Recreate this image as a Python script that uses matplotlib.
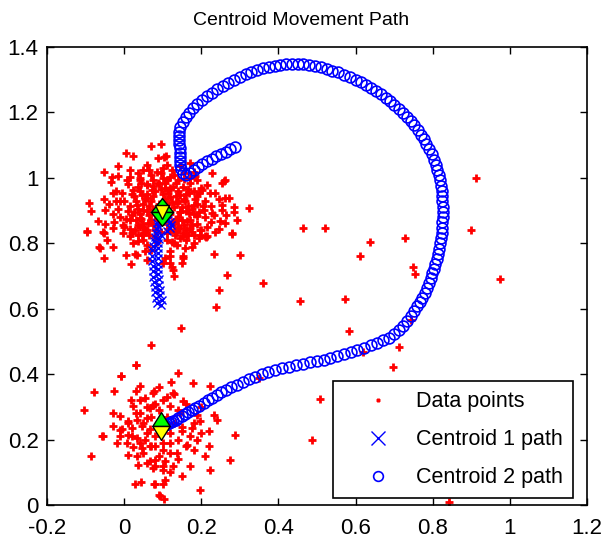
import numpy as np
import matplotlib.pyplot as plt
from matplotlib.path import Path

plt.rcParams['font.family'] = ['Liberation Sans', 'DejaVu Sans']

# red data points, upper cluster
upper_pts = [
    (0.070, 1.096), (0.095, 1.102), (0.004, 1.077), (0.024, 1.067), (0.087, 1.060), (0.109, 1.067),
    (-0.016, 1.037), (-0.051, 1.017), (-0.032, 1.004), (-0.016, 1.007), (-0.035, 0.986), (0.007, 0.994),
    (0.016, 1.004), (0.050, 1.024), (0.059, 1.040), (0.085, 1.019), (0.102, 1.030), (-0.030, 0.953),
    (-0.051, 0.935), (-0.021, 0.928), (-0.010, 0.928), (-0.090, 0.923), (-0.086, 0.900), (-0.049, 0.902),
    (-0.068, 0.867), (-0.028, 0.846), (-0.054, 0.836), (-0.095, 0.839), (-0.002, 0.857), (0.016, 0.872),
    (0.024, 0.963), (0.037, 0.973), (0.046, 0.948), (0.059, 0.938), (0.033, 0.918), (0.050, 0.902),
    (0.020, 0.887), (0.042, 0.877), (0.063, 0.862), (0.029, 0.841), (0.050, 0.831), (0.072, 0.963),
    (0.089, 0.984), (0.106, 0.969), (0.076, 0.994), (0.059, 0.979), (0.111, 0.994), (0.042, 0.994),
    (0.104, 1.065), (0.111, 1.040), (0.171, 1.045), (0.180, 1.019), (0.228, 1.014), (0.262, 0.994),
    (0.254, 0.984), (0.215, 0.979), (0.202, 0.963), (0.223, 0.953), (0.236, 0.953), (0.271, 0.938),
    (0.254, 0.918), (0.323, 0.907), (0.284, 0.897), (0.206, 0.902), (0.232, 0.887), (0.189, 0.882),
    (0.293, 0.872), (0.262, 0.862), (0.215, 0.851), (0.197, 0.841), (0.180, 0.826), (0.215, 0.821),
    (0.119, 1.004), (0.141, 0.994), (0.128, 0.973), (0.154, 0.973), (0.171, 0.984), (0.189, 0.994),
    (0.145, 0.948), (0.167, 0.953), (0.189, 0.943), (0.137, 0.923), (0.158, 0.928), (0.180, 0.918),
    (0.145, 0.897), (0.167, 0.892), (0.141, 0.872), (0.163, 0.867), (0.145, 0.846), (0.171, 0.846),
    (0.154, 0.821), (0.132, 0.836), (0.115, 0.963), (-0.095, 0.833), (-0.052, 0.831), (-0.045, 0.811),
    (-0.064, 0.788), (-0.029, 0.788), (-0.051, 0.755), (0.005, 0.765), (0.029, 0.768), (0.017, 0.737),
    (0.055, 0.775), (-0.002, 0.831), (0.016, 0.821), (0.037, 0.806), (0.046, 0.826), (0.024, 0.801),
    (0.059, 0.795), (0.102, 0.740), (0.106, 0.755), (0.111, 0.831), (0.132, 0.826), (0.154, 0.831),
    (0.176, 0.836), (0.197, 0.826), (0.212, 0.819), (0.137, 0.795), (0.158, 0.785), (0.176, 0.790),
    (0.119, 0.775), (0.154, 0.760), (0.150, 0.740), (0.119, 0.740), (0.126, 0.719), (-0.062, 0.785),
    (0.033, 0.765), (0.154, 0.755), (0.124, 0.729), (0.258, 0.989), (0.286, 0.912), (0.262, 0.938),
    (0.228, 0.892), (0.249, 0.867), (0.280, 0.831), (0.210, 0.821), (0.254, 0.902),
    (0.060, 0.950), (0.080, 0.960), (0.100, 0.950), (0.120, 0.940), (0.140, 0.930), (0.050, 0.920),
    (0.070, 0.930), (0.090, 0.920), (0.110, 0.920), (0.130, 0.910), (0.150, 0.910), (0.040, 0.890),
    (0.060, 0.900), (0.080, 0.890), (0.120, 0.890), (0.140, 0.880), (0.160, 0.900), (0.050, 0.860),
    (0.070, 0.870), (0.090, 0.860), (0.110, 0.860), (0.130, 0.860), (0.150, 0.870), (0.170, 0.870),
    (0.040, 0.850), (0.060, 0.840), (0.080, 0.840), (0.120, 0.840), (0.140, 0.850), (0.160, 0.840),
    (0.030, 0.930), (0.020, 0.950), (0.040, 0.960), (0.060, 0.980), (0.090, 0.980), (0.120, 0.970),
    (0.140, 0.960), (0.160, 0.950), (0.180, 0.960), (0.190, 0.920), (0.180, 0.890), (0.190, 0.860),
    (0.030, 0.870), (0.010, 0.900), (0.000, 0.930), (-0.010, 0.880), (0.020, 0.830), (0.050, 0.810),
    (0.080, 0.820), (0.110, 0.810), (0.130, 0.800), (0.160, 0.810), (0.180, 0.800), (0.200, 0.840),
    (0.210, 0.880), (0.210, 0.930), (0.200, 0.970), (0.170, 1.000), (0.130, 1.010), (0.100, 1.000),
    (0.070, 1.010), (0.040, 1.000), (0.010, 0.980), (-0.020, 0.960), (-0.040, 0.920), (-0.030, 0.890),
    (-0.050, 0.860), (0.000, 0.850), (0.070, 0.780), (0.120, 0.760), (0.060, 0.750), (0.130, 0.700),
    (0.065, 0.915), (0.085, 0.905), (0.105, 0.935), (0.125, 0.925), (0.075, 0.945), (0.095, 0.965),
    (0.115, 0.955), (0.135, 0.945), (0.055, 0.935), (0.035, 0.905), (0.045, 0.875), (0.065, 0.885),
    (0.085, 0.875), (0.105, 0.875), (0.125, 0.865), (0.145, 0.895), (0.165, 0.915), (0.155, 0.935),
    (0.175, 0.905), (0.185, 0.935), (0.195, 0.895), (0.175, 0.855), (0.155, 0.855), (0.135, 0.835),
    (0.115, 0.845), (0.095, 0.835), (0.075, 0.855), (0.055, 0.845), (0.035, 0.855), (0.025, 0.895),
    (0.015, 0.915), (0.005, 0.875), (0.025, 0.945), (0.045, 0.985), (0.075, 0.975), (0.105, 0.985),
    (0.135, 0.985), (0.155, 0.995), (0.165, 0.965), (0.195, 0.955), (0.205, 0.915), (0.225, 0.915),
    (0.225, 0.865), (0.235, 0.835), (0.195, 0.815), (0.165, 0.825), (0.145, 0.815), (0.125, 0.805),
    (0.085, 0.805), (0.065, 0.825), (0.035, 0.825), (0.015, 0.845), (-0.015, 0.905), (-0.025, 0.865),
    (-0.005, 0.955), (0.015, 1.025), (0.035, 1.015), (0.065, 1.025), (0.095, 1.015), (0.125, 1.025),
    (0.145, 1.035), (0.155, 1.015), (0.185, 1.005), (0.245, 0.935), (0.265, 0.885), (0.245, 0.845),
    (0.075, 0.905), (0.115, 0.905), (0.135, 0.875), (0.095, 0.895),
]

# red data points, lower cluster
lower_pts = [
    (0.031, 0.429), (-0.008, 0.393), (-0.077, 0.344), (-0.025, 0.350), (0.040, 0.365), (0.031, 0.348),
    (0.018, 0.320), (0.055, 0.327), (0.076, 0.343), (0.023, 0.302), (-0.103, 0.290), (-0.028, 0.281),
    (-0.010, 0.271), (0.042, 0.281), (0.068, 0.297), (0.011, 0.256), (0.033, 0.261), (0.059, 0.266),
    (-0.029, 0.241), (-0.006, 0.231), (0.020, 0.236), (0.046, 0.241), (0.068, 0.231), (-0.055, 0.210),
    (-0.010, 0.210), (0.011, 0.215), (0.033, 0.205), (0.055, 0.200), (-0.019, 0.190), (0.007, 0.190),
    (0.024, 0.178), (0.046, 0.175), (0.068, 0.180), (-0.086, 0.149), (0.011, 0.154), (0.033, 0.149),
    (0.037, 0.121), (0.066, 0.134), (0.081, 0.118), (0.027, 0.065), (0.044, 0.070), (0.078, 0.065),
    (0.139, 0.405), (0.178, 0.373), (0.121, 0.375), (0.223, 0.363), (0.078, 0.348), (0.128, 0.343),
    (0.102, 0.322), (0.154, 0.317), (0.076, 0.307), (0.119, 0.302), (0.145, 0.281), (0.189, 0.276),
    (0.232, 0.276), (0.197, 0.256), (0.176, 0.236), (0.150, 0.225), (0.219, 0.225), (0.288, 0.215),
    (0.189, 0.200), (0.119, 0.190), (0.163, 0.185), (0.081, 0.180), (0.102, 0.169), (0.180, 0.169),
    (0.137, 0.159), (0.210, 0.149), (0.275, 0.139), (0.081, 0.139), (0.106, 0.134), (0.171, 0.118),
    (0.128, 0.118), (0.223, 0.108), (0.076, 0.114), (0.102, 0.108), (0.106, 0.078), (0.081, 0.063),
    (0.197, 0.047), (0.094, 0.027), (0.104, 0.017), (0.091, 0.030), (0.100, 0.063), (0.069, 0.490),
    (0.030, 0.429), (-0.009, 0.393), (-0.056, 0.210),
    (0.050, 0.250), (0.070, 0.270), (0.090, 0.290), (0.110, 0.270), (0.130, 0.250), (0.060, 0.220),
    (0.080, 0.210), (0.120, 0.220), (0.140, 0.200), (0.040, 0.190), (0.070, 0.180), (0.100, 0.190),
    (0.120, 0.160), (0.090, 0.150), (0.050, 0.160), (0.150, 0.240), (0.170, 0.210), (0.160, 0.180),
    (0.030, 0.280), (0.010, 0.250), (0.080, 0.310), (0.110, 0.330), (0.060, 0.300), (0.140, 0.290),
    (0.160, 0.310), (0.130, 0.340), (0.090, 0.360), (0.040, 0.320), (-0.010, 0.230), (0.020, 0.210),
    (0.140, 0.140), (0.100, 0.120), (0.060, 0.130), (0.180, 0.250), (0.200, 0.220), (0.120, 0.100),
    (0.150, 0.090), (0.220, 0.180), (0.240, 0.260), (0.200, 0.300),
]

# scattered points between the clusters
other_pts = [
    (0.913, 0.999), (0.900, 0.840), (0.974, 0.690), (0.637, 0.805), (0.728, 0.816), (0.612, 0.762),
    (0.749, 0.727), (0.754, 0.707), (0.573, 0.630), (0.582, 0.532), (0.745, 0.566), (0.712, 0.484),
    (0.698, 0.423), (0.620, 0.469), (0.509, 0.325), (0.842, 0.010), (0.465, 0.847), (0.520, 0.847),
    (0.361, 0.679), (0.457, 0.624), (0.281, 0.829), (0.301, 0.763), (0.268, 0.702), (0.247, 0.658),
    (0.237, 0.604), (0.147, 0.540), (0.234, 0.768), (0.486, 0.200), (0.350, 0.389),
]

# centroid 1 path (bottom up)
c1_x = [0.095, 0.085, 0.098, 0.082, 0.094, 0.080, 0.092, 0.079, 0.091, 0.077, 0.090, 0.076, 0.089,
        0.075, 0.088, 0.074, 0.088, 0.073, 0.087, 0.072, 0.087, 0.073, 0.088, 0.075, 0.089, 0.078,
        0.091, 0.080, 0.095, 0.083, 0.110, 0.086, 0.118, 0.089, 0.122, 0.085, 0.118, 0.090, 0.114,
        0.093, 0.110, 0.095, 0.108, 0.097, 0.106, 0.099, 0.104, 0.100, 0.101, 0.100]
c1_y = [0.610, 0.618, 0.626, 0.634, 0.642, 0.650, 0.658, 0.666, 0.674, 0.682, 0.690, 0.698, 0.706,
        0.714, 0.722, 0.730, 0.738, 0.746, 0.754, 0.762, 0.770, 0.778, 0.786, 0.793, 0.800, 0.807,
        0.814, 0.820, 0.826, 0.832, 0.838, 0.843, 0.848, 0.853, 0.857, 0.861, 0.865, 0.868, 0.871,
        0.874, 0.876, 0.878, 0.880, 0.882, 0.884, 0.885, 0.886, 0.887, 0.888, 0.888]

# centroid 2 path
c2_pts = [
    (0.287, 1.094), (0.275, 1.087), (0.263, 1.080), (0.251, 1.073), (0.239, 1.066), (0.227, 1.058),
    (0.215, 1.050), (0.203, 1.042), (0.192, 1.033), (0.181, 1.024), (0.170, 1.015), (0.160, 1.010),
    (0.152, 1.015), (0.147, 1.026), (0.145, 1.038), (0.145, 1.051), (0.145, 1.064), (0.145, 1.077),
    (0.144, 1.090), (0.143, 1.103), (0.142, 1.116), (0.142, 1.128), (0.143, 1.141), (0.146, 1.155),
    (0.152, 1.170), (0.160, 1.185), (0.169, 1.199), (0.179, 1.212), (0.190, 1.225), (0.202, 1.237),
    (0.215, 1.249), (0.228, 1.260), (0.242, 1.271), (0.256, 1.281), (0.270, 1.291), (0.285, 1.300),
    (0.300, 1.309), (0.315, 1.317), (0.330, 1.324), (0.345, 1.330), (0.360, 1.335), (0.375, 1.339),
    (0.390, 1.342), (0.405, 1.345), (0.420, 1.347), (0.435, 1.348), (0.450, 1.348), (0.465, 1.347),
    (0.480, 1.345), (0.495, 1.342), (0.510, 1.338), (0.525, 1.333), (0.540, 1.328), (0.555, 1.322),
    (0.570, 1.315), (0.585, 1.308), (0.600, 1.300), (0.614, 1.292), (0.628, 1.284), (0.641, 1.275),
    (0.654, 1.266), (0.666, 1.256), (0.678, 1.245), (0.690, 1.234), (0.701, 1.222), (0.712, 1.210),
    (0.723, 1.198), (0.733, 1.186), (0.743, 1.173), (0.752, 1.160), (0.761, 1.146), (0.769, 1.132),
    (0.777, 1.118), (0.784, 1.103), (0.791, 1.088), (0.797, 1.072), (0.803, 1.056), (0.808, 1.040),
    (0.812, 1.024), (0.816, 1.008), (0.819, 0.992), (0.821, 0.976), (0.823, 0.960), (0.824, 0.944),
    (0.825, 0.928), (0.826, 0.912), (0.826, 0.896), (0.826, 0.880), (0.825, 0.864), (0.824, 0.848),
    (0.823, 0.832), (0.821, 0.816), (0.819, 0.800), (0.817, 0.784), (0.814, 0.768), (0.811, 0.752),
    (0.807, 0.737), (0.803, 0.722), (0.799, 0.708), (0.795, 0.693), (0.790, 0.678), (0.785, 0.663),
    (0.779, 0.648), (0.773, 0.634), (0.767, 0.620), (0.760, 0.607), (0.752, 0.593), (0.743, 0.577),
    (0.734, 0.563), (0.723, 0.548), (0.712, 0.535), (0.700, 0.523), (0.686, 0.512), (0.671, 0.503),
    (0.656, 0.495), (0.640, 0.488), (0.622, 0.481), (0.604, 0.475), (0.587, 0.468), (0.570, 0.461),
    (0.552, 0.454), (0.535, 0.449), (0.517, 0.444), (0.500, 0.440), (0.482, 0.436), (0.464, 0.432),
    (0.446, 0.428), (0.428, 0.423), (0.410, 0.418), (0.392, 0.412), (0.374, 0.406), (0.357, 0.399),
    (0.340, 0.392), (0.323, 0.384), (0.307, 0.376), (0.292, 0.368), (0.278, 0.360), (0.265, 0.352),
    (0.252, 0.344), (0.240, 0.336), (0.228, 0.328), (0.217, 0.320), (0.206, 0.312), (0.195, 0.304),
    (0.185, 0.297), (0.175, 0.290), (0.166, 0.283), (0.157, 0.277), (0.149, 0.271), (0.141, 0.266),
    (0.134, 0.261), (0.127, 0.257), (0.121, 0.253), (0.116, 0.250), (0.111, 0.248), (0.107, 0.246),
    (0.104, 0.245), (0.101, 0.244),
]

final_c1 = (0.099, 0.896)
final_c2 = (0.096, 0.243)

xtick_vals = [-0.2, 0, 0.2, 0.4, 0.6, 0.8, 1, 1.2]
xtick_text = ['-0.2', '0', '0.2', '0.4', '0.6', '0.8', '1', '1.2']
ytick_vals = [0, 0.2, 0.4, 0.6, 0.8, 1, 1.2, 1.4]
ytick_text = ['0', '0.2', '0.4', '0.6', '0.8', '1', '1.2', '1.4']

# triangles with the base through the marker centre
tri_up = Path([(-1, 0), (1, 0), (0, 1.25), (-1, 0)], closed=True)
tri_dn = Path([(-1, 0), (1, 0), (0, -1.25), (-1, 0)], closed=True)
tall_up = Path([(-1, 0), (1, 0), (0, 1.6), (-1, 0)], closed=True)
tall_dn = Path([(-1, 0), (1, 0), (0, -1.6), (-1, 0)], closed=True)

fig = plt.figure(figsize=(6.02, 5.46), dpi=100)
ax = fig.add_axes([0.078, 0.075, 0.897, 0.839])

pts = np.array(upper_pts + lower_pts + other_pts)
ax.plot(pts[:, 0], pts[:, 1], '+', color='red', markersize=5.5, mew=2.0, label='Data points')
ax.plot(c1_x, c1_y, 'x', color='blue', markersize=6, mew=1.0, label='Centroid 1 path')
c2 = np.array(c2_pts)
ax.plot(c2[:, 0], c2[:, 1], 'o', color='blue', mfc='none', markersize=7.8, mew=1.2,
        label='Centroid 2 path')

# final centroid positions
ax.plot(*final_c1, marker=tri_up, color='#00ff00', mec='black', markersize=20, mew=1)
ax.plot(*final_c1, marker=tri_dn, color='#00ff00', mec='black', markersize=20, mew=1)
ax.plot(*final_c1, marker='v', color='yellow', mec='black', markersize=9.5, mew=1)
ax.plot(*final_c2, marker=tall_up, color='#00ff00', mec='black', markersize=20, mew=1)
ax.plot(*final_c2, marker=tall_dn, color='yellow', mec='black', markersize=20, mew=1)

ax.set_xlim(-0.2, 1.2)
ax.set_ylim(0, 1.4)
ax.set_xticks(xtick_vals)
ax.set_xticklabels(xtick_text)
ax.set_yticks(ytick_vals)
ax.set_yticklabels(ytick_text)
ax.tick_params(direction='in', length=5, width=1, top=True, right=True, labelsize=16)
ax.tick_params(axis='x', pad=9)
ax.tick_params(axis='y', pad=6)
for s in ax.spines.values():
    s.set_linewidth(1.2)

ax.set_title('Centroid Movement Path', fontsize=14, pad=16, x=0.47)

leg = ax.legend(loc='lower right', bbox_to_anchor=(0.974, 0.015), borderaxespad=0,
                fontsize=15.5, fancybox=False, edgecolor='black', framealpha=1,
                handlelength=3.2, handletextpad=0.2, borderpad=0.45, labelspacing=0.8)
leg.get_frame().set_linewidth(1.2)
leg.legend_handles[0].set_markersize(3)
leg.legend_handles[1].set_markersize(10)
leg.legend_handles[2].set_markersize(7)

fig.savefig('out.png', dpi=100, facecolor='white')
